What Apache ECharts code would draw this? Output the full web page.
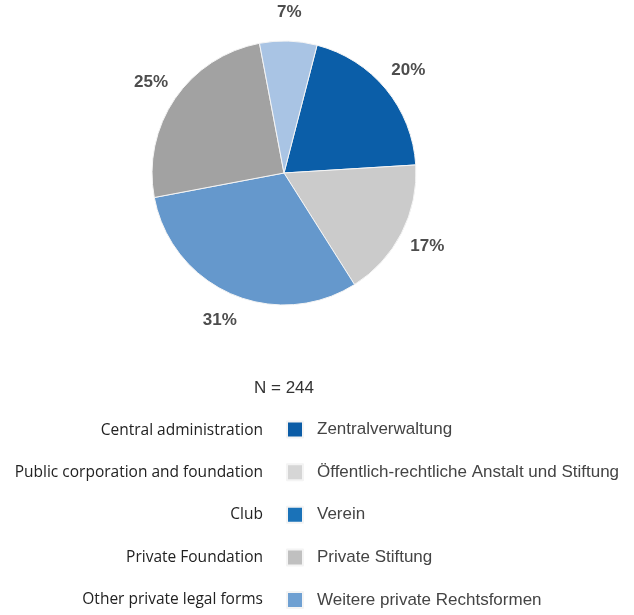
<!DOCTYPE html>
<html>
<head>
<meta charset="utf-8">
<script src="https://cdn.jsdelivr.net/npm/echarts@6/dist/echarts.min.js"></script>
<style>
html,body{margin:0;padding:0;background:#fff;}
#chart{width:634px;height:615px;}
</style>
</head>
<body>
<div id="chart"></div>
<script>
// Slices in clockwise order
const categories = ['Zentralverwaltung', 'Öffentlich-rechtliche Anstalt und Stiftung', 'Weitere private Rechtsformen', 'Private Stiftung', 'Verein'];
const values = [20, 17, 31, 25, 7];
const sliceColors = ['#0b5ea8', '#cbcbcb', '#6598cc', '#a2a2a2', '#a9c4e4'];

// Legend (German) and English translations
const legendOrder = ['Zentralverwaltung', 'Öffentlich-rechtliche Anstalt und Stiftung', 'Verein', 'Private Stiftung', 'Weitere private Rechtsformen'];
const legendEnglish = ['Central administration', 'Public corporation and foundation', 'Club', 'Private Foundation', 'Other private legal forms'];
const legendColors = ['#0b5ca6', '#d6d6d6', '#1a72b8', '#c0c0c0', '#6fa0d2'];
const sampleLabel = 'N = 244';

const firstRow = 429, rowStep = 42.25, textH = 17;

const chart = echarts.init(document.getElementById('chart'), null, {renderer: 'canvas'});

const pieData = categories.map((n, i) => ({name: n, value: values[i], itemStyle: {color: sliceColors[i]}}));
const ringData = categories.map((n, i) => ({name: n, value: values[i]}));

const englishTexts = legendEnglish.map((t, i) => ({
  type: 'text',
  x: 263,
  y: firstRow + 1.5 + i * rowStep,
  style: {
    text: t, fill: '#222', font: '15.5px "Open Sans"',
    textAlign: 'right', textVerticalAlign: 'middle'
  }
}));

chart.setOption({
  animation: false,
  legend: {
    orient: 'vertical',
    left: 286,
    top: firstRow - textH / 2,
    height: 200,
    padding: 0,
    itemWidth: 16,
    itemHeight: 16,
    itemGap: rowStep - textH - 0.6,
    icon: 'rect',
    selectedMode: false,
    data: legendOrder.map((n, i) => ({name: n, itemStyle: {color: legendColors[i]}})),
    textStyle: {fontFamily: 'Liberation Sans, Arial', fontSize: 17, lineHeight: textH, color: '#444', padding: [0, 0, 0, 9]}
  },
  graphic: [
    {
      type: 'text', x: 284, y: 388,
      style: {text: sampleLabel, fill: '#333', font: '17px "Liberation Sans"', textAlign: 'center', textVerticalAlign: 'middle'}
    }
  ].concat(englishTexts),
  series: [
    {
      type: 'pie',
      center: [284, 173],
      radius: [0, 132],
      startAngle: 75.5,
      clockwise: true,
      avoidLabelOverlap: false,
      label: {show: false},
      labelLine: {show: false},
      itemStyle: {borderColor: '#f4f4f4', borderWidth: 1},
      emphasis: {disabled: true},
      data: pieData
    },
    {
      type: 'pie',
      center: [284, 173],
      radius: [132, 184],
      startAngle: 75.5,
      clockwise: true,
      silent: true,
      avoidLabelOverlap: false,
      itemStyle: {color: 'rgba(0,0,0,0)'},
      label: {
        show: true, position: 'inside',
        formatter: '{d}%',
        fontFamily: 'Liberation Sans, Arial', fontSize: 17, fontWeight: 'bold', color: '#4d4d4d'
      },
      labelLine: {show: false},
      emphasis: {disabled: true},
      data: ringData
    }
  ]
});
</script>
</body>
</html>
